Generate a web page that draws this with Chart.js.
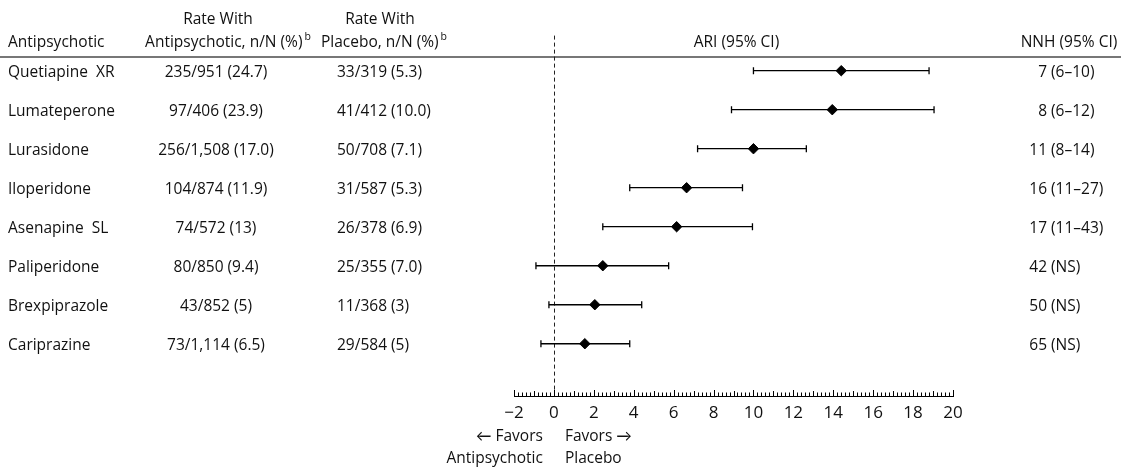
<!DOCTYPE html>
<html lang="en">
<head>
  <meta charset="UTF-8">
  <title>Antipsychotics - ARI forest plot</title>
  <script src="https://cdn.jsdelivr.net/npm/chart.js"></script>
  <style>
    html, body { margin: 0; padding: 0; background: #fff; }
    .wrap { position: relative; width: 1121px; height: 469px; }
  </style>
</head>
<body>
  <div class="wrap"><canvas id="forest"></canvas></div>

  <script>
    // Data
    const drugs = ['Quetiapine  XR', 'Lumateperone', 'Lurasidone', 'Iloperidone', 'Asenapine  SL', 'Paliperidone', 'Brexpiprazole', 'Cariprazine'];
    const rateDrug = ['235/951 (24.7)', '97/406 (23.9)', '256/1,508 (17.0)', '104/874 (11.9)', '74/572 (13)', '80/850 (9.4)', '43/852 (5)', '73/1,114 (6.5)'];
    const ratePlacebo = ['33/319 (5.3)', '41/412 (10.0)', '50/708 (7.1)', '31/587 (5.3)', '26/378 (6.9)', '25/355 (7.0)', '11/368 (3)', '29/584 (5)'];
    const ari = [14.4, 13.95, 10.0, 6.65, 6.15, 2.45, 2.05, 1.55];
    const ciLow = [10.0, 8.9, 7.2, 3.8, 2.45, -0.9, -0.25, -0.65];
    const ciHigh = [18.8, 19.05, 12.65, 9.45, 9.95, 5.75, 4.4, 3.8];
    const nnh = ['7', '8', '11', '16', '17', '42', '50', '65'];
    const nnhCI = ['6–10', '6–12', '8–14', '11–27', '11–43', 'NS', 'NS', 'NS'];
    const xTickLabels = ['−2', '0', '2', '4', '6', '8', '10', '12', '14', '16', '18', '20'];

    const FONT = '"Open Sans", Lato, sans-serif';
    const SIZE = 15.5;

    // one line per row for the CI whisker, caps drawn as rotated 'line' points
    const ciSets = drugs.map((d, i) => ({
      type: 'line',
      label: d + ' CI',
      data: [{ x: ciLow[i], y: i }, { x: ciHigh[i], y: i }],
      borderColor: '#000',
      borderWidth: 1.3,
      pointStyle: 'line',
      rotation: 90,
      pointRadius: 3.5,
      pointBorderWidth: 1.3,
      pointBorderColor: '#000',
      order: 2
    }));

    const pointSet = {
      type: 'scatter',
      label: 'ARI',
      data: ari.map((v, i) => ({ x: v, y: i })),
      pointStyle: 'rectRot',
      pointRadius: 5.2,
      backgroundColor: '#000',
      borderColor: '#000',
      borderWidth: 1,
      order: 1
    };

    // helper: text with a small superscript after it, centred on cx
    function supText(ctx, txt, sup, cx, y) {
      ctx.font = SIZE + 'px ' + FONT;
      const w1 = ctx.measureText(txt).width;
      ctx.font = '10.5px ' + FONT;
      const w2 = ctx.measureText(sup).width;
      const start = cx - (w1 + w2 + 2) / 2;
      ctx.textAlign = 'left';
      ctx.font = SIZE + 'px ' + FONT;
      ctx.fillText(txt, start, y);
      ctx.font = '10.5px ' + FONT;
      ctx.fillText(sup, start + w1 + 2, y - 6);
    }

    const forestTable = {
      id: 'forestTable',
      beforeDatasetsDraw(chart) {
        const { ctx, chartArea, scales: { x } } = chart;
        const x0 = Math.round(x.getPixelForValue(0)) + 0.5;
        ctx.save();
        // header rule
        ctx.strokeStyle = '#4a4a4a';
        ctx.lineWidth = 1.5;
        ctx.beginPath();
        ctx.moveTo(0, 57);
        ctx.lineTo(chart.width, 57);
        ctx.stroke();
        // no-effect line
        ctx.strokeStyle = '#222';
        ctx.lineWidth = 1;
        ctx.setLineDash([4, 3]);
        ctx.beginPath();
        ctx.moveTo(x0, chartArea.top);
        ctx.lineTo(x0, chartArea.bottom);
        ctx.stroke();
        ctx.setLineDash([]);
        // ruler ticks, pointing up from the axis line
        ctx.strokeStyle = '#000';
        for (let k = 0; k <= 110; k++) {
          const v = -2 + k * 0.2;
          const px = Math.round(x.getPixelForValue(v)) + 0.5;
          const len = k % 10 === 0 ? 6 : (k % 5 === 0 ? 5 : 3.5);
          ctx.beginPath();
          ctx.moveTo(px, chartArea.bottom);
          ctx.lineTo(px, chartArea.bottom - len);
          ctx.stroke();
        }
        ctx.restore();
      },
      afterDraw(chart) {
        const { ctx, chartArea, scales: { x, y } } = chart;
        ctx.save();
        ctx.fillStyle = '#111';
        ctx.textBaseline = 'middle';
        ctx.font = SIZE + 'px ' + FONT;

        // headers
        ctx.textAlign = 'left';
        ctx.fillText('Antipsychotic', 8, 43);
        ctx.textAlign = 'center';
        ctx.fillText('Rate With', 218, 20);
        ctx.fillText('Rate With', 380, 20);
        supText(ctx, 'Antipsychotic, n/N (%)', 'b', 228, 43);
        supText(ctx, 'Placebo, n/N (%)', 'b', 384, 43);
        ctx.font = SIZE + 'px ' + FONT;
        ctx.textAlign = 'center';
        ctx.fillText('ARI (95% CI)', (chartArea.left + chartArea.right) / 2 + 3, 43);
        ctx.fillText('NNH (95% CI)', 1069, 43);

        // table rows
        drugs.forEach((d, i) => {
          const py = y.getPixelForValue(i) + 1.5;
          ctx.textAlign = 'left';
          ctx.fillText(d, 8, py);
          ctx.textAlign = 'center';
          ctx.fillText(rateDrug[i], 216, py);
          ctx.textAlign = 'left';
          ctx.fillText(ratePlacebo[i], 337, py);
          ctx.textAlign = 'right';
          ctx.fillText(nnh[i], 1047, py);
          ctx.textAlign = 'left';
          ctx.fillText('(' + nnhCI[i] + ')', 1051, py);
        });

        // direction labels under the axis
        const x0 = x.getPixelForValue(0);
        ctx.textAlign = 'right';
        ctx.fillText('← Favors', x0 - 11, 437);
        ctx.fillText('Antipsychotic', x0 - 11, 459);
        ctx.textAlign = 'left';
        ctx.fillText('Favors →', x0 + 11, 437);
        ctx.fillText('Placebo', x0 + 11, 459);
        ctx.restore();
      }
    };

    new Chart(document.getElementById('forest'), {
      data: { datasets: [pointSet, ...ciSets] },
      options: {
        responsive: true,
        maintainAspectRatio: false,
        animation: false,
        layout: { padding: { left: 514, right: 168, top: 35.6, bottom: 0 } },
        plugins: { legend: { display: false }, tooltip: { enabled: false } },
        scales: {
          x: {
            type: 'linear',
            position: 'bottom',
            min: -2,
            max: 20,
            afterFit: s => { s.height = 73; },
            grid: { display: false, drawTicks: false },
            border: { display: true, color: '#000', width: 1 },
            ticks: {
              stepSize: 2,
              padding: 7,
              color: '#111',
              font: { family: FONT, size: 17 },
              callback: v => xTickLabels[Math.round((v + 2) / 2)]
            }
          },
          y: {
            type: 'linear',
            reverse: true,
            min: -0.9,
            max: 8.34,
            display: false
          }
        }
      },
      plugins: [forestTable]
    });
  </script>
</body>
</html>
